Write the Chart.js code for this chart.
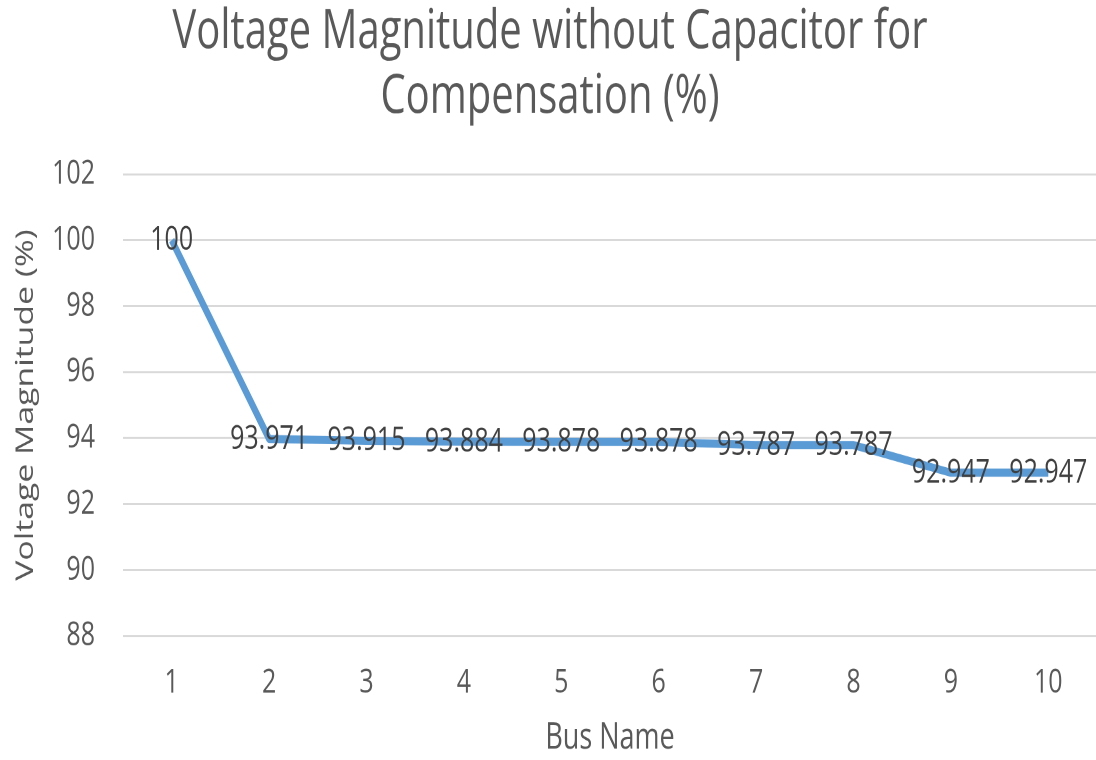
<!DOCTYPE html>
<html>
<head>
<meta charset="utf-8">
<script src="https://cdn.jsdelivr.net/npm/chart.js@4.4.1/dist/chart.umd.min.js"></script>
<style>
html,body{margin:0;padding:0;background:#fff;overflow:hidden;}
#wrap{position:absolute;left:0;top:0;width:1100px;height:563px;transform:scaleY(1.35);transform-origin:0 0;}
</style>
</head>
<body>
<div id="wrap"><canvas id="chart"></canvas></div>
<script>
// DATA
var busNames = ["1","2","3","4","5","6","7","8","9","10"];
var voltage = [100, 93.971, 93.915, 93.884, 93.878, 93.878, 93.787, 93.787, 92.947, 92.947];
var voltageLabels = ["100","93.971","93.915","93.884","93.878","93.878","93.787","93.787","92.947","92.947"];
var yMin = 88, yMax = 102, yStep = 2;

var font = "'Open Sans', sans-serif";
var grey = "#595959";

// labels drawn centred on each point
var pointLabels = {
  id: "pointLabels",
  afterDatasetsDraw: function(chart){
    var ctx = chart.ctx;
    var meta = chart.getDatasetMeta(0);
    ctx.save();
    ctx.font = "25px " + font;
    ctx.fillStyle = "#404040";
    ctx.textAlign = "center";
    ctx.textBaseline = "middle";
    meta.data.forEach(function(pt, i){
      ctx.fillText(voltageLabels[i], pt.x, pt.y);
    });
    ctx.restore();
  }
};

var chart = new Chart(document.getElementById("chart"), {
  type: "line",
  data: {
    labels: busNames,
    datasets: [{
      data: voltage,
      borderColor: "#5B9BD5",
      borderWidth: 6,
      pointRadius: 0,
      tension: 0,
      borderJoinStyle: "round"
    }]
  },
  options: {
    responsive: true,
    maintainAspectRatio: false,
    devicePixelRatio: 2,
    animation: false,
    layout: { padding: 0 },
    plugins: {
      legend: { display: false },
      tooltip: { enabled: false },
      title: {
        display: true,
        text: ["Voltage Magnitude without Capacitor for", "Compensation (%)"],
        color: grey,
        font: { family: font, size: 40, weight: "normal", lineHeight: 1.2 },
        padding: { top: 0, bottom: 33 }
      }
    },
    scales: {
      x: {
        offset: true,
        grid: { display: false, drawTicks: false },
        border: { display: false },
        ticks: { color: grey, font: { family: font, size: 25 }, padding: 20, maxRotation: 0 },
        title: { display: true, text: "Bus Name", color: grey, font: { family: font, size: 27 }, padding: 0 },
        afterFit: function(s){ s.height = 92; }
      },
      y: {
        min: yMin,
        max: yMax,
        grid: { color: "#d9d9d9", lineWidth: 1.5, drawTicks: false },
        border: { display: false },
        ticks: { stepSize: yStep, color: grey, font: { family: font, size: 25 }, padding: 28 },
        title: { display: true, text: "Voltage Magnitude (%)", color: grey, font: { family: font, size: 25 }, padding: { top: 11, bottom: 0 } },
        afterFit: function(s){ s.width = 123; }
      }
    }
  },
  plugins: [pointLabels]
});
</script>
</body>
</html>
